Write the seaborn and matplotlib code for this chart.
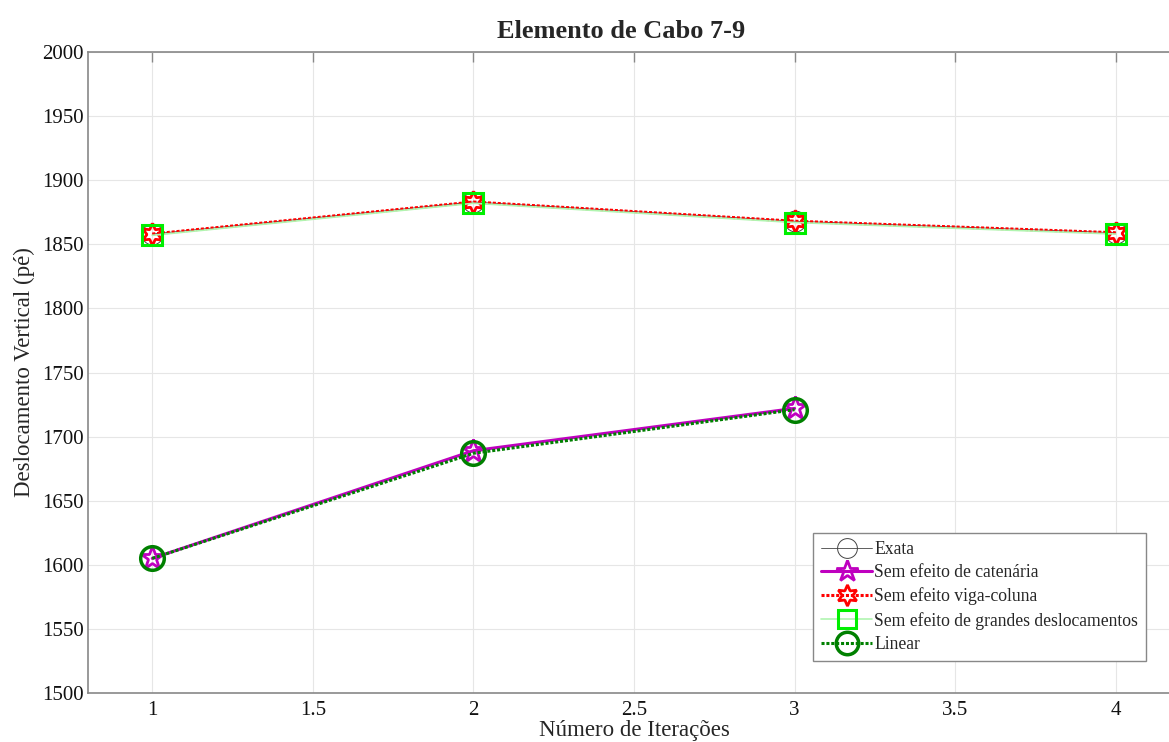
import matplotlib
matplotlib.use("Agg")
import matplotlib.pyplot as plt
import seaborn as sns
import pandas as pd

# Iteration counts
iter_full = [1, 2, 3, 4]
iter_short = [1, 2, 3]

# Vertical displacement (ft) for each analysis
exata = [1858, 1883, 1868, 1859]
sem_catenaria = [1605, 1689, 1722]
sem_viga_coluna = [1858, 1883, 1868, 1859]
sem_grandes_desl = [1857, 1882, 1867, 1858]
linear = [1605, 1687, 1721]

x_ticks = [1, 1.5, 2, 2.5, 3, 3.5, 4]
y_ticks = list(range(1500, 2001, 50))

sns.set_style("white")
plt.rcParams["font.family"] = ["Liberation Serif", "DejaVu Serif"]

fig = plt.figure(figsize=(11.69, 7.42), dpi=100)
ax = fig.add_axes([88 / 1169, 1 - 693 / 742, 1092 / 1169, 641 / 742])

series = [
    ("Exata", iter_full, exata,
     dict(color="#444444", lw=0.6, ls="-", marker="o", ms=15, mec="#444444", mew=0.7)),
    ("Sem efeito de catenária", iter_short, sem_catenaria,
     dict(color="#bf00bf", lw=2.2, ls="-", marker="*", ms=17, mec="#bf00bf", mew=2.0)),
    ("Sem efeito viga-coluna", iter_full, sem_viga_coluna,
     dict(color="#ff0000", lw=2.2, ls=(0, (1, 0.6)), marker=(6, 1, 0), ms=16, mec="#ff0000", mew=2.0)),
    ("Sem efeito de grandes deslocamentos", iter_full, sem_grandes_desl,
     dict(color="#b0f5b0", lw=1.2, ls="-", marker="s", ms=14, mec="#00ee00", mew=2.2)),
    ("Linear", iter_short, linear,
     dict(color="#008000", lw=2.2, ls=(0, (1, 0.6)), marker="o", ms=17, mec="#008000", mew=2.5)),
]

for name, xs, ys, st in series:
    df = pd.DataFrame({"Iteração": xs, "Deslocamento": ys})
    sns.lineplot(
        data=df, x="Iteração", y="Deslocamento", ax=ax,
        color=st["color"], linewidth=st["lw"], linestyle=st["ls"],
        marker=st["marker"], markersize=st["ms"],
        markerfacecolor="none", markeredgecolor=st["mec"], markeredgewidth=st["mew"],
        label=name, legend=False,
    )

ax.set_xlim(0.8, 4.2)
ax.set_ylim(1500, 2000)
ax.set_xticks(x_ticks)
ax.set_xticklabels(["1", "1.5", "2", "2.5", "3", "3.5", "4"])
ax.set_yticks(y_ticks)
ax.grid(True, color="#e6e6e6", linewidth=0.8)
ax.set_axisbelow(True)
ax.tick_params(direction="in", length=7, width=1.0, color="#888888",
               labelsize=15, labelcolor="#111111", top=True, right=True)
ax.tick_params(axis="y", pad=3)
ax.tick_params(axis="x", pad=6)
for sp in ax.spines.values():
    sp.set_color("#888888")
    sp.set_linewidth(1.2)

ax.set_xlabel("Número de Iterações", fontsize=16.5, labelpad=0)
ax.set_ylabel("Deslocamento Vertical (pé)", fontsize=16.5, labelpad=5)
ax.set_title("Elemento de Cabo 7-9", fontsize=19, fontweight="bold", pad=10, x=0.488)

leg = ax.legend(loc="lower left", bbox_to_anchor=(0.664, 0.05), fontsize=12.7,
                handlelength=2.9, handletextpad=0.12, labelspacing=0.36,
                borderpad=0.45, borderaxespad=0, markerscale=0.95,
                fancybox=False, framealpha=1, edgecolor="#888888")
leg.get_frame().set_linewidth(1.0)

fig.savefig("out.png", dpi=100)
